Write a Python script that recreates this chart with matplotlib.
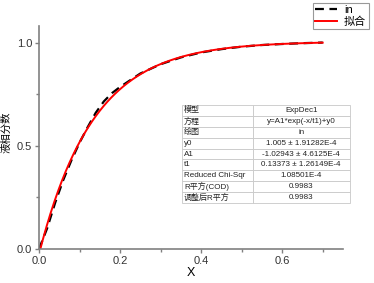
import numpy as np
import matplotlib
matplotlib.use("Agg")
import matplotlib.pyplot as plt

plt.rcParams['font.family'] = ['Liberation Sans', 'Noto Sans CJK SC', 'DejaVu Sans']

# data ("in")
x_data = [0.0, 0.02, 0.04, 0.06, 0.08, 0.10, 0.12, 0.14, 0.16, 0.18, 0.20,
          0.25, 0.30, 0.35, 0.40, 0.45, 0.50, 0.55, 0.60, 0.65, 0.70]
y_data = [0.0, 0.10, 0.225, 0.335, 0.43, 0.515, 0.59, 0.66, 0.715, 0.755, 0.785,
          0.85, 0.895, 0.928, 0.952, 0.968, 0.98, 0.988, 0.993, 0.997, 1.0]

# fit parameters (ExpDec1)
y0 = 1.005
A1 = -1.02943
t1 = 0.13373

table_labels = ["模型", "方程", "绘图", "y0", "A1", "t1", "Reduced Chi-Sqr", "R平方(COD)", "调整后R平方"]
table_values = ["ExpDec1", "y=A1*exp(-x/t1)+y0", "in", "1.005 ± 1.91282E-4",
                "-1.02943 ± 4.6125E-4", "0.13373 ± 1.26149E-4", "1.08501E-4",
                "0.9983", "0.9983"]

fig = plt.figure(figsize=(3.74, 2.83), dpi=100)
ax = fig.add_axes([0.1043, 0.120, 0.8127, 0.788])

xf = np.linspace(0.0, 0.7, 300)
yf = A1 * np.exp(-xf / t1) + y0

ax.plot(x_data, y_data, color='black', lw=1.6, ls=(0, (4, 2.5)), label='in')
ax.plot(xf, yf, color='#ff0000', lw=1.4, label='拟合')

ax.set_xlim(0, 0.75)
ax.set_ylim(0, 1.08)
ax.set_xticks([0.0, 0.2, 0.4, 0.6])
ax.set_xticks([0.1, 0.3, 0.5, 0.7], minor=True)
ax.set_yticks([0.0, 0.5, 1.0])
ax.set_yticks([0.25, 0.75], minor=True)
ax.set_xticklabels(["0.0", "0.2", "0.4", "0.6"])
ax.set_yticklabels(["0.0", "0.5", "1.0"])

for s in ['top', 'right']:
    ax.spines[s].set_visible(False)
for s in ['left', 'bottom']:
    ax.spines[s].set_color('#808080')
    ax.spines[s].set_linewidth(1.2)
ax.tick_params(which='major', direction='out', length=3, width=1, color='#808080',
               labelsize=8, labelcolor='#333333', pad=2)
ax.tick_params(which='minor', direction='out', length=2, width=1, color='#808080')

ax.set_xlabel("X", fontsize=9, labelpad=1)
ax.set_ylabel("液相分数", fontsize=7.5)
ax.yaxis.set_label_coords(-0.09, 0.525)

leg = fig.legend(loc='upper left', bbox_to_anchor=(313/374, 1 - 3/283), fontsize=8,
                 frameon=True, fancybox=False, edgecolor='#808080', handlelength=2.0,
                 borderpad=0.2, labelspacing=0.1, handletextpad=0.6, borderaxespad=0)
leg.get_frame().set_linewidth(0.8)

# table
tb = ax.table(cellText=[[a, b] for a, b in zip(table_labels, table_values)],
              colWidths=[0.42, 0.58], cellLoc='center',
              bbox=[(182-39)/304, (249-203)/223, (350-182)/304, (203-105)/223])
tb.auto_set_font_size(False)
tb.set_fontsize(5.8)
for (r, c), cell in tb.get_celld().items():
    cell.set_edgecolor('#c8c8c8')
    cell.set_linewidth(0.6)
    cell.set_facecolor('white')
    if c == 0:
        cell.PAD = 0.03
        cell.get_text().set_horizontalalignment('left')
    cell.get_text().set_color('#222222')

fig.savefig("out.png", dpi=100)
